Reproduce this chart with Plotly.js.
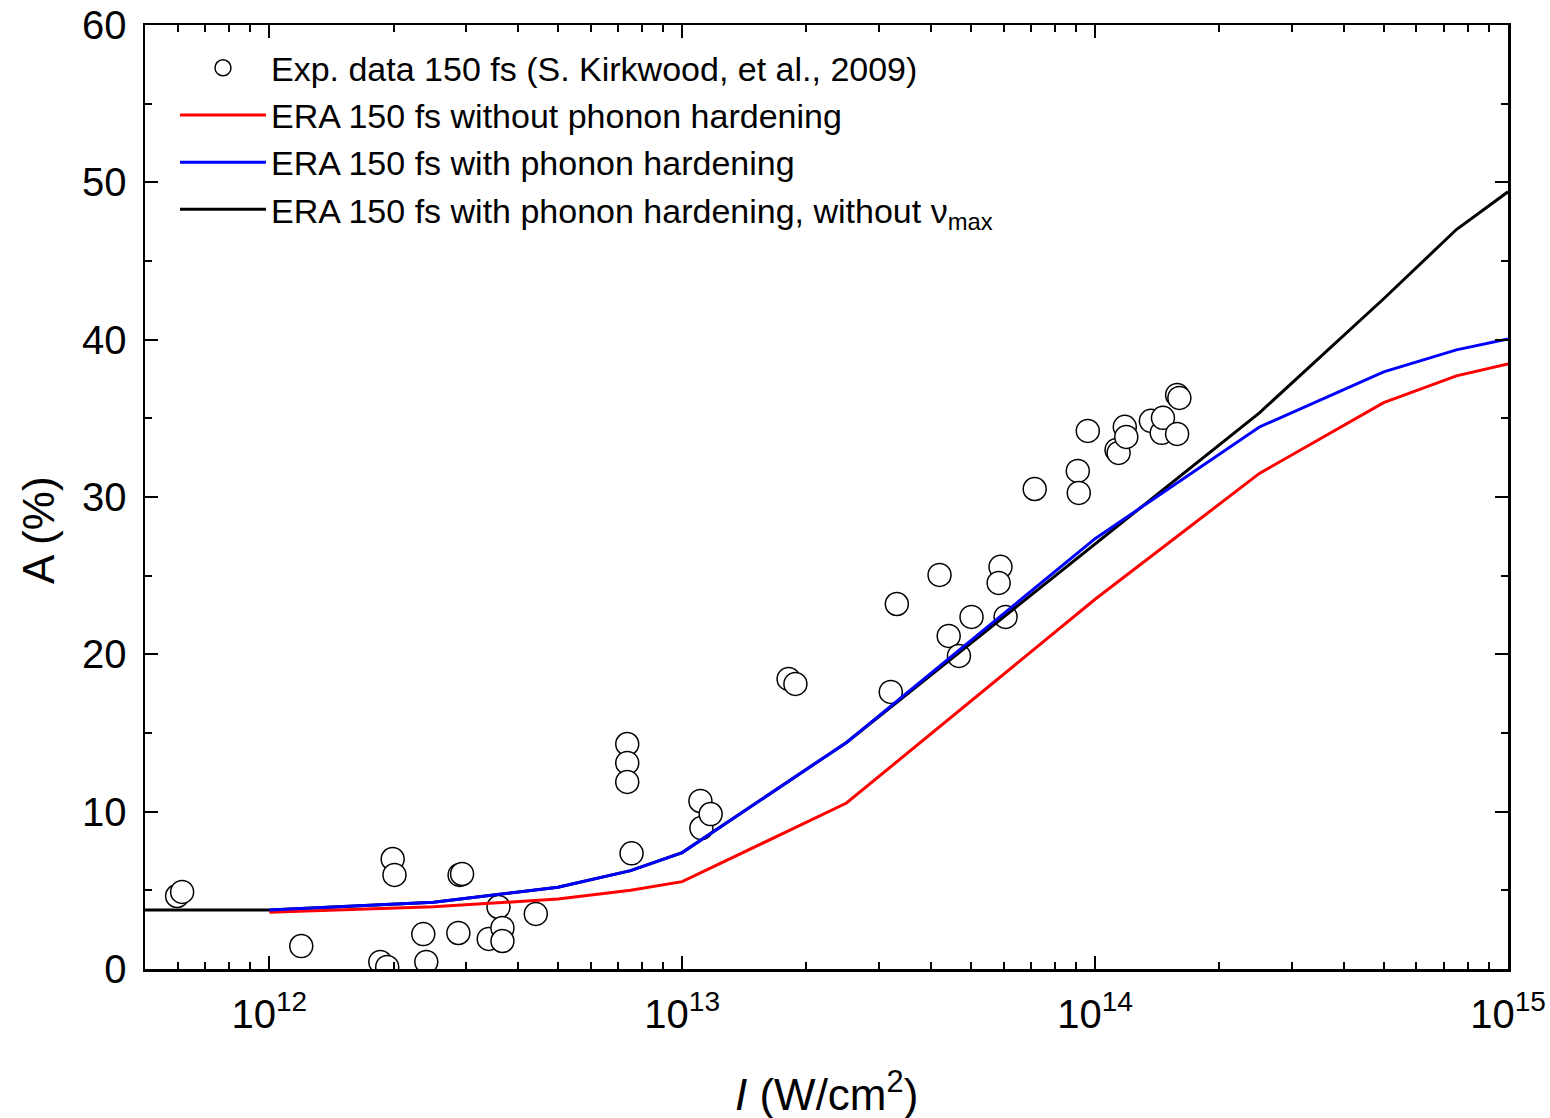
<!DOCTYPE html>
<html>
<head>
<meta charset="utf-8">
<script src="https://cdn.plot.ly/plotly-3.0.1.min.js"></script>
<style>
  html, body { margin: 0; padding: 0; background: #fff; }
  #chart { width: 1550px; height: 1118px; }
</style>
</head>
<body>
<div id="chart"></div>
<script>
// Measured absorptance, 150 fs pulses (Kirkwood et al., 2009)
const expIntensity = [
  5.98e11, 6.15e11, 1.195e12, 1.857e12, 1.93e12, 1.99e12, 2.01e12, 2.36e12, 2.40e12,
  2.87e12, 2.89e12, 2.93e12, 3.40e12, 3.59e12, 3.67e12, 3.67e12, 4.42e12,
  7.36e12, 7.36e12, 7.36e12, 7.54e12, 1.107e13, 1.113e13, 1.172e13, 1.81e13, 1.88e13,
  3.20e13, 3.31e13, 4.20e13, 4.42e13, 4.68e13, 5.02e13, 5.90e13, 5.84e13, 6.07e13,
  7.14e13, 9.08e13, 9.13e13, 9.60e13, 1.127e14, 1.14e14, 1.18e14, 1.19e14,
  1.365e14, 1.45e14, 1.46e14, 1.58e14, 1.58e14, 1.60e14
];
const expAbsorptance = [
  4.64, 4.9, 1.46, 0.45, 0.13, 6.99, 5.98, 2.22, 0.45,
  2.29, 5.98, 6.04, 1.91, 3.94, 2.61, 1.78, 3.50,
  14.30, 13.10, 11.89, 7.35, 10.68, 8.96, 9.85, 18.44, 18.12,
  17.61, 23.20, 25.05, 21.17, 19.90, 22.38, 25.56, 24.54, 22.38,
  30.51, 31.66, 30.26, 34.20, 32.99, 32.80, 34.46, 33.82,
  34.84, 34.08, 35.03, 34.01, 36.49, 36.30
];

// ERA model curves
const modelIntensity = [1e12, 2.5e12, 5e12, 7.5e12, 1e13, 2.5e13, 1e14, 2.5e14, 5e14, 7.5e14, 1e15];
const eraNoHardening = [3.6, 3.95, 4.45, 5.0, 5.55, 10.55, 23.5, 31.5, 36.0, 37.7, 38.45];
const eraHardening   = [3.75, 4.25, 5.2, 6.25, 7.4, 14.4, 27.35, 34.45, 37.95, 39.35, 40.05];

const noNuMaxIntensity = [5e11, 1e12, 2.5e12, 5e12, 7.5e12, 1e13, 2.5e13, 1e14, 2.5e14, 5e14, 7.5e14, 1e15];
const eraHardeningNoNuMax = [3.75, 3.75, 4.25, 5.2, 6.25, 7.4, 14.4, 27.0, 35.35, 42.6, 47.0, 49.4];

// Axis ticks
const xMajorTicks = [1e12, 1e13, 1e14, 1e15];
const xMajorText = ['10<sup>12</sup>', '10<sup>13</sup>', '10<sup>14</sup>', '10<sup>15</sup>'];
const xMinorTicks = [];
for (let e = 11; e <= 14; e++) {
  for (let m = 2; m <= 9; m++) {
    const v = m * Math.pow(10, e);
    if (v >= 5e11 && v <= 1e15) xMinorTicks.push(v);
  }
}

const FONT = 'Liberation Sans, Arial, sans-serif';

const traces = [
  {
    x: expIntensity, y: expAbsorptance,
    type: 'scatter', mode: 'markers',
    name: 'Exp. data 150 fs (S. Kirkwood, et al., 2009)',
    marker: { symbol: 'circle', size: 23, color: '#ffffff', line: { color: '#000000', width: 1.5 } },
    legendrank: 1
  },
  {
    x: noNuMaxIntensity, y: eraHardeningNoNuMax,
    type: 'scatter', mode: 'lines',
    name: 'ERA 150 fs with phonon hardening, without \u03bd<sub>max</sub>',
    line: { color: '#000000', width: 3 },
    legendrank: 4
  },
  {
    x: modelIntensity, y: eraNoHardening,
    type: 'scatter', mode: 'lines',
    name: 'ERA 150 fs without phonon hardening',
    line: { color: '#ff0000', width: 3 },
    legendrank: 2
  },
  {
    x: modelIntensity, y: eraHardening,
    type: 'scatter', mode: 'lines',
    name: 'ERA 150 fs with phonon hardening',
    line: { color: '#0000ff', width: 3 },
    legendrank: 3
  }
];

const layout = {
  width: 1550, height: 1118,
  margin: { l: 145, r: 42, t: 25, b: 149 },
  paper_bgcolor: '#ffffff', plot_bgcolor: '#ffffff',
  font: { family: FONT, color: '#000000' },
  showlegend: true,
  legend: {
    x: 0.022, y: 0.985, xanchor: 'left', yanchor: 'top',
    bgcolor: 'rgba(0,0,0,0)', borderwidth: 0,
    font: { family: FONT, size: 34, color: '#000000' },
    itemwidth: 86,
    tracegroupgap: 0
  },
  xaxis: {
    type: 'log',
    range: [Math.log10(5e11), 15],
    tickmode: 'array', tickvals: xMajorTicks, ticktext: xMajorText,
    ticks: 'inside', ticklen: 13, tickwidth: 2, tickcolor: '#000',
    minor: { tickmode: 'array', tickvals: xMinorTicks, ticks: 'inside', ticklen: 7, tickwidth: 2, tickcolor: '#000', showgrid: false },
    showline: true, linewidth: 2.5, linecolor: '#000', mirror: 'ticks',
    showgrid: false, zeroline: false,
    ticklabelstandoff: 8,
    tickfont: { family: FONT, size: 40, color: '#000' }
  },
  yaxis: {
    range: [0, 60],
    tickmode: 'linear', tick0: 0, dtick: 10,
    ticks: 'inside', ticklen: 13, tickwidth: 2, tickcolor: '#000',
    minor: { dtick: 5, ticks: 'inside', ticklen: 7, tickwidth: 2, tickcolor: '#000', showgrid: false },
    showline: true, linewidth: 2.5, linecolor: '#000', mirror: 'ticks',
    showgrid: false, zeroline: false,
    ticklabelstandoff: 8,
    tickfont: { family: FONT, size: 40, color: '#000' }
  },
  annotations: [
    {
      text: '<i>I</i> (W/cm<sup>2</sup>)',
      xref: 'paper', yref: 'paper', x: 0.5, y: -0.130,
      xanchor: 'center', yanchor: 'middle', showarrow: false,
      font: { family: FONT, size: 44, color: '#000' }
    },
    {
      text: 'A (%)',
      xref: 'paper', yref: 'paper', x: -0.0785, y: 0.465,
      xanchor: 'center', yanchor: 'middle', textangle: -90, showarrow: false,
      font: { family: FONT, size: 44, color: '#000' }
    }
  ]
};

Plotly.newPlot('chart', traces, layout, { displayModeBar: false, staticPlot: true });
</script>
</body>
</html>
